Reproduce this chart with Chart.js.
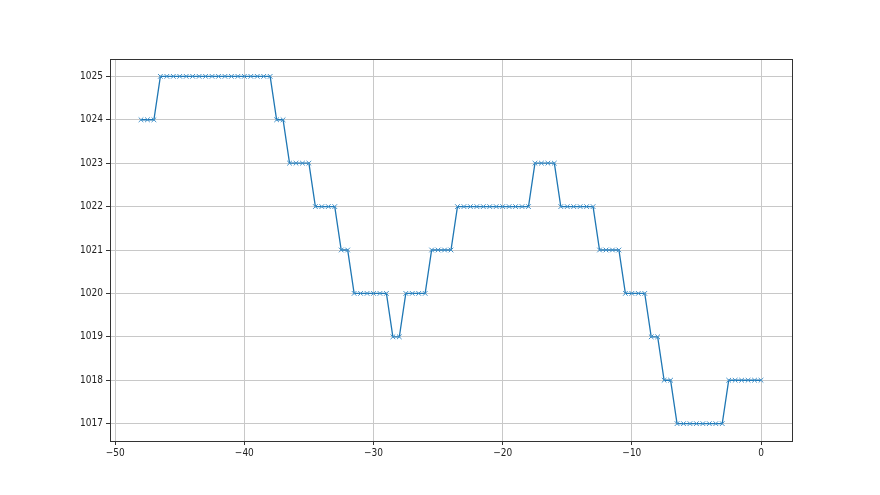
<!DOCTYPE html>
<html>
<head>
<meta charset="utf-8">
<script src="https://cdn.jsdelivr.net/npm/chart.js@4.4.1/dist/chart.umd.min.js"></script>
<style>
  html, body { margin: 0; padding: 0; background: #fff; }
  #wrap { width: 880px; height: 495px; }
</style>
</head>
<body>
<div id="wrap"><canvas id="myChart"></canvas></div>
<script>
const hours = [
  -48, -47.5, -47, -46.5, -46, -45.5, -45, -44.5, -44, -43.5,
  -43, -42.5, -42, -41.5, -41, -40.5, -40, -39.5, -39, -38.5,
  -38, -37.5, -37, -36.5, -36, -35.5, -35, -34.5, -34, -33.5,
  -33, -32.5, -32, -31.5, -31, -30.5, -30, -29.5, -29, -28.5,
  -28, -27.5, -27, -26.5, -26, -25.5, -25, -24.5, -24, -23.5,
  -23, -22.5, -22, -21.5, -21, -20.5, -20, -19.5, -19, -18.5,
  -18, -17.5, -17, -16.5, -16, -15.5, -15, -14.5, -14, -13.5,
  -13, -12.5, -12, -11.5, -11, -10.5, -10, -9.5, -9, -8.5,
  -8, -7.5, -7, -6.5, -6, -5.5, -5, -4.5, -4, -3.5,
  -3, -2.5, -2, -1.5, -1, -0.5, 0
]

const pressure = [
  1024, 1024, 1024, 1025, 1025, 1025, 1025, 1025, 1025, 1025,
  1025, 1025, 1025, 1025, 1025, 1025, 1025, 1025, 1025, 1025,
  1025, 1024, 1024, 1023, 1023, 1023, 1023, 1022, 1022, 1022,
  1022, 1021, 1021, 1020, 1020, 1020, 1020, 1020, 1020, 1019,
  1019, 1020, 1020, 1020, 1020, 1021, 1021, 1021, 1021, 1022,
  1022, 1022, 1022, 1022, 1022, 1022, 1022, 1022, 1022, 1022,
  1022, 1023, 1023, 1023, 1023, 1022, 1022, 1022, 1022, 1022,
  1022, 1021, 1021, 1021, 1021, 1020, 1020, 1020, 1020, 1019,
  1019, 1018, 1018, 1017, 1017, 1017, 1017, 1017, 1017, 1017,
  1017, 1018, 1018, 1018, 1018, 1018, 1018
]

const xTicks = [-50, -40, -30, -20, -10, 0]
const yTicks = [1017, 1018, 1019, 1020, 1021, 1022, 1023, 1024, 1025]

const tickFont = { family: "'Liberation Sans Narrow', 'DejaVu Sans Condensed', sans-serif", size: 10 }

// matplotlib-style box around the axes
const frame = {
  id: 'frame',
  afterDraw(chart) {
    const a = chart.chartArea
    const ctx = chart.ctx
    ctx.save()
    ctx.strokeStyle = '#333'
    ctx.lineWidth = 1
    ctx.strokeRect(Math.round(a.left) + 0.5, Math.round(a.top) + 0.5,
      Math.round(a.right - a.left), Math.round(a.bottom - a.top))
    ctx.restore()
  }
}

const data = {
  datasets: [{
    data: hours.map((h, i) => ({ x: h, y: pressure[i] })),
    borderColor: '#1f77b4',
    backgroundColor: '#1f77b4',
    borderWidth: 1.3,
    pointStyle: 'crossRot',
    pointRadius: 3.3,
    pointBorderWidth: 1,
    pointBorderColor: '#3f8fc8',
    tension: 0
  }]
}

const config = {
  type: 'line',
  data: data,
  options: {
    responsive: false,
    animation: false,
    layout: { padding: { left: 0, right: 88, top: 59, bottom: 0 } },
    plugins: { legend: { display: false }, tooltip: { enabled: false } },
    scales: {
      x: {
        type: 'linear',
        min: -50.4,
        max: 2.4,
        afterBuildTicks: s => { s.ticks = xTicks.map(v => ({ value: v })) },
        afterFit: s => { s.height = 54 },
        grid: { color: '#c8c8c8', tickColor: '#333', tickLength: 4 },
        border: { display: false },
        ticks: { color: '#222', font: tickFont, padding: 2, maxRotation: 0,
          callback: v => String(v).replace('-', '\u2212') }
      },
      y: {
        min: 1016.6,
        max: 1025.4,
        afterBuildTicks: s => { s.ticks = yTicks.map(v => ({ value: v })) },
        afterFit: s => { s.width = 110 },
        grid: { color: '#c8c8c8', tickColor: '#333', tickLength: 4 },
        border: { display: false },
        ticks: { color: '#222', font: tickFont, padding: 3, callback: v => String(v) }
      }
    }
  },
  plugins: [frame]
}

const canvas = document.getElementById('myChart')
canvas.width = 880
canvas.height = 495
const myChart = new Chart(canvas, config)
</script>
</body>
</html>
